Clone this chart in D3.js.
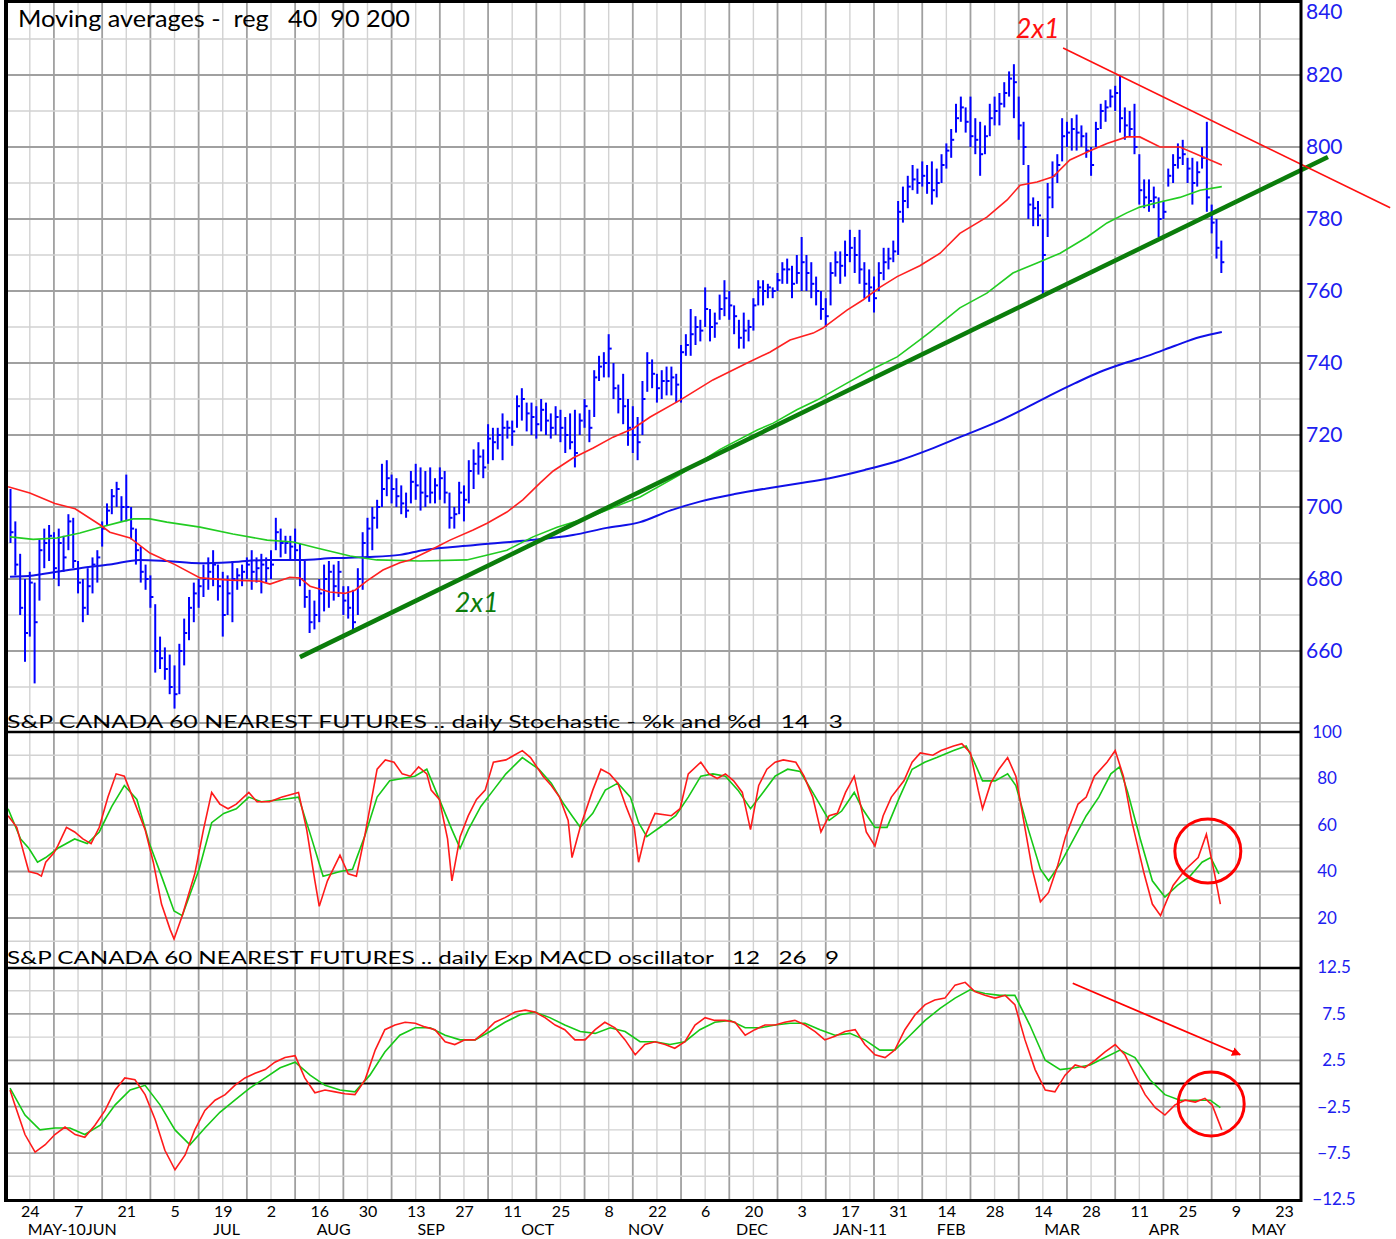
<!DOCTYPE html>
<html>
<head>
<meta charset="utf-8">
<script src="https://cdn.jsdelivr.net/npm/d3@7"></script>
<style>
  body { margin: 0; background: #fff; }
  svg { display: block; font-family: Lato, 'DejaVu Sans', sans-serif; }
  .pre { white-space: pre; }
</style>
</head>
<body>
<svg id="chart" width="1396" height="1239"></svg>
<script>
// trading-day index 0 = Mon 24 May 2010
const firstDay = -4;
const highs = [
    705, 696, 687, 680,
    682, 679, 691, 694, 695, 693, 694, 692, 698, 697,
    685, 680, 683, 686, 688, 696, 701, 705, 707, 703,
    709, 700, 694, 689, 684, 681, 673, 664, 661, 659,
    656, 662, 669, 675, 679, 680, 684, 686, 688, 684,
    682, 681, 685, 683, 684, 686, 688, 686, 687, 686,
    688, 697, 694, 692, 692, 694, 690, 685, 677, 674,
    680, 684, 685, 684, 685, 678, 678, 677, 683, 693,
    697, 700, 702, 712, 713, 709, 708, 706, 704, 710,
    712, 711, 710, 711, 708, 711, 710, 704, 700, 707,
    706, 713, 716, 718, 716, 723, 722, 722, 726, 724,
    724, 731, 733, 729, 729, 728, 730, 729, 726, 728,
    727, 725, 726, 727, 726, 730, 727, 738, 742, 743,
    748, 740, 734, 737, 730, 728, 725, 735, 743, 741,
    737, 738, 739, 739, 737, 745, 748, 755, 753, 752,
    761, 755, 754, 759, 763, 760, 756, 752, 754, 752,
    758, 763, 763, 762, 761, 765, 768, 769, 767, 770,
    775, 770, 768, 764, 760, 758, 768, 771, 771, 774,
    777, 775, 777, 768, 766, 764, 768, 772, 772, 774,
    785, 789, 792, 795, 794, 796, 795, 796, 794, 798,
    801, 805, 812, 814, 811, 814, 808, 807, 806, 812,
    814, 815, 818, 821, 823, 814, 807, 795, 786, 785,
    780, 790, 796, 798, 808, 807, 808, 809, 806, 804,
    800, 807, 812, 813, 816, 817, 820, 811, 810, 812,
    798, 791, 791, 789, 786, 785, 794, 798, 801, 802,
    797, 797, 796, 800, 807, 784, 780, 774
];
const lows = [
    690, 681, 670, 657,
    664, 651, 674, 683, 685, 680, 678, 682, 688, 683,
    676, 668, 670, 676, 679, 689, 695, 698, 700, 696,
    696, 691, 684, 679, 677, 672, 654, 655, 652, 648,
    644, 648, 656, 663, 668, 672, 675, 677, 678, 674,
    664, 670, 668, 677, 678, 680, 677, 679, 676, 679,
    680, 688, 686, 687, 685, 685, 678, 672, 665, 666,
    668, 671, 672, 674, 675, 670, 669, 665, 670, 677,
    686, 688, 694, 700, 703, 701, 700, 698, 697, 701,
    702, 699, 700, 701, 701, 702, 701, 694, 694, 698,
    696, 701, 705, 709, 708, 712, 713, 716, 713, 719,
    717, 722, 724, 721, 720, 719, 721, 720, 719, 720,
    718, 715, 716, 711, 720, 722, 718, 725, 735, 736,
    736, 730, 726, 723, 717, 715, 713, 720, 732, 733,
    729, 730, 731, 731, 729, 729, 742, 742, 745, 746,
    750, 746, 747, 752, 753, 752, 748, 744, 744, 746,
    749, 756, 756, 758, 758, 760, 762, 762, 758, 762,
    760, 760, 758, 756, 752, 750, 756, 764, 762, 764,
    768, 765, 762, 758, 757, 754, 760, 763, 766, 768,
    770, 779, 783, 788, 787, 789, 787, 784, 786, 790,
    794, 797, 804, 807, 804, 800, 798, 792, 798, 803,
    806, 806, 811, 814, 808, 802, 795, 780, 778, 778,
    759, 775, 783, 790, 796, 800, 799, 799, 800, 797,
    792, 800, 805, 807, 811, 810, 804, 802, 803, 798,
    784, 783, 782, 783, 775, 780, 789, 790, 794, 795,
    790, 784, 789, 794, 782, 776, 769, 765
];
const closes = [
    693, 684, 672, 665,
    679, 668, 688, 690, 692, 683, 690, 686, 696, 685,
    679, 672, 678, 684, 686, 694, 699, 703, 705, 700,
    700, 694, 688, 682, 680, 675, 660, 658, 655, 650,
    648, 660, 665, 672, 676, 678, 680, 682, 684, 678,
    670, 676, 680, 681, 682, 684, 682, 683, 684, 683,
    684, 693, 690, 690, 689, 688, 680, 675, 668, 670,
    676, 680, 682, 678, 682, 674, 672, 668, 680, 690,
    694, 697, 700, 705, 708, 705, 703, 701, 699, 707,
    706, 704, 703, 704, 706, 708, 704, 697, 698, 704,
    702, 710, 712, 714, 711, 719, 718, 720, 722, 722,
    721, 728, 730, 726, 725, 723, 727, 724, 722, 725,
    722, 720, 718, 715, 724, 728, 722, 736, 739, 740,
    744, 733, 730, 728, 722, 720, 718, 730, 740, 737,
    733, 735, 735, 736, 734, 743, 745, 748, 750, 749,
    755, 750, 751, 755, 758, 756, 753, 747, 749, 750,
    756, 761, 760, 761, 760, 763, 766, 766, 762, 765,
    768, 765, 762, 760, 755, 753, 765, 768, 767, 770,
    772, 770, 766, 762, 761, 758, 765, 768, 769, 771,
    782, 785, 789, 791, 790, 792, 790, 788, 790, 795,
    799, 802, 808, 811, 807, 803, 802, 798, 803, 808,
    810, 812, 815, 819, 818, 806, 800, 784, 783, 781,
    770, 786, 792, 795, 803, 804, 805, 804, 803, 799,
    795, 805, 810, 811, 814, 815, 808, 806, 805, 800,
    788, 786, 785, 786, 780, 782, 792, 795, 797, 798,
    794, 790, 793, 797, 786, 779, 772, 768
];

// moving averages as [day, value]
const ma40 = [[-4.5,705.6],[0,703.9],[5.2,701],[9.4,699.5],[14.6,695],[16.6,693],[20.8,691.4],[24.9,687.2],[30.1,684],[35.3,680.3],[41.5,679.7],[47.7,679.4],[49.8,678.6],[53.9,680.5],[56,680.3],[58.1,678],[62.2,676.4],[65.3,676],[67.4,676.9],[69.9,679.5],[73.2,682.5],[76.7,684.5],[78.8,685.3],[83,688],[87.1,690.8],[91.9,693.6],[94.8,695.5],[98.9,698.6],[102.2,702],[105.8,706.7],[108.5,710],[112.6,713.6],[116.8,716.4],[120.9,719.4],[125.1,721.8],[128.6,725],[134.8,729.7],[141.6,735.3],[148.7,740],[153.4,743],[157.6,746.4],[162.4,748.3],[164.4,749.7],[169.4,754.7],[172.7,757.5],[176.2,761],[179.8,764],[184.5,767],[188.7,770.5],[192.8,776],[198.4,780.5],[202.6,785.3],[205.3,789.4],[208.8,790.3],[212.1,791.7],[215.6,796.4],[219.2,798.6],[223.3,801],[227.4,802.8],[230.1,802.8],[234.3,800],[238.4,800],[243.2,797.2],[247.1,795]];
const ma90 = [[-4.1,691.7],[0.7,691],[5.6,691.4],[10.4,692.8],[14.6,694.4],[18.7,695.8],[21.4,696.7],[24.9,696.7],[28.4,695.8],[35.3,694.4],[42.1,692.5],[49.2,690.8],[54.6,690.3],[59.5,688.6],[66.4,686.4],[71.9,685.3],[80.9,685],[90.6,685.3],[98.9,688],[104.3,691.7],[109.3,694.4],[116.1,697.2],[123,701],[126.5,702.8],[134.8,709],[143.1,716],[150.8,721.4],[154.1,723.3],[159,727],[163.2,729.7],[169.4,734.4],[174.2,738],[179.8,741.7],[184.5,746.4],[186.6,748.6],[192.8,755.3],[198.4,759.4],[203.8,765],[208.8,767.8],[213.6,770.5],[219.2,775],[223.3,778.9],[227.4,781.7],[230.1,783.3],[234.3,784.7],[238.4,786],[242.6,788],[247.1,789]];
const ma200 = [[-4.1,680.6],[0.7,681],[5.6,682],[10.4,683],[16.6,684],[22.8,685.3],[28.4,685],[35.3,684.4],[42.1,684.7],[49.2,685.3],[56,685.3],[62.9,685.8],[69.9,686.1],[76.7,686.7],[81.5,688],[91.9,689.4],[102.2,690.6],[112.6,692.2],[119.6,694.2],[126.5,695.8],[132.7,699],[138.9,701.5],[146.1,703.6],[153.4,705.3],[159.6,706.6],[165.8,708],[173.1,710.3],[180.4,713],[186.6,716],[192.8,719.4],[201.1,724],[206.3,727.4],[211.5,731],[216.7,734.4],[221.8,737.5],[227,740],[232.2,742.2],[237.4,744.8],[242.6,747.2],[247.1,748.6]];

const stochK = [[-4.5,64],[-2.7,59],[-1,46],[-0.2,40],[1.6,39],[2.4,38],[3.3,44],[5,48],[5.8,51],[7.6,59],[9.3,57],[11,54],[12.7,52],[14.4,59],[16.2,72],[17.9,82],[19.6,81],[21.3,72],[23.9,58],[25.6,44],[27.3,26],[29.1,15],[29.9,11],[31.6,21],[34.2,39],[36,58],[37.7,74],[39.4,69],[41.1,67],[42.8,69],[45.4,74],[47.1,70],[49.7,70],[52.3,72],[55.7,74],[57.4,58],[59.1,36],[60,25],[61.7,36],[64.3,47],[66,39],[67.7,38],[69.4,55],[72,84],[73.7,88],[75.5,87],[77.2,82],[78.9,81],[80.6,85],[82.3,82],[83.2,75],[84.9,71],[86.6,54],[87.5,36],[89.2,55],[90.9,64],[92.6,71],[94.4,75],[96.1,87],[98.7,88],[100.4,90],[102.1,92],[103.8,89],[106.4,81],[108.1,77],[109.8,72],[111.6,62],[112.4,46],[114.1,59],[116.7,75],[118.4,84],[120.2,82],[121.9,78],[123.6,68],[125.3,59],[126.2,44],[127.5,55],[129.6,65],[133,64],[134.8,67],[136.5,82],[139.1,87],[140.8,82],[142.5,80],[144.2,82],[145.9,79],[147.7,74],[149.4,58],[151.1,77],[152.8,84],[154.5,87],[156.2,88],[158.8,87],[160.5,81],[162.3,72],[164,57],[165.7,64],[167.4,65],[169.1,74],[170.9,81],[172.6,65],[173.4,57],[175.2,51],[176.9,64],[178.6,72],[181.2,79],[182.9,87],[184.6,91],[187.2,90],[188.9,92],[191.5,94],[193.2,95],[195,91],[196.6,75],[197.5,67],[199.2,78],[200.9,84],[202.7,89],[204.4,81],[206.1,61],[207.8,41],[209.5,27],[211.2,31],[213,42],[214.7,55],[217.3,69],[219,72],[220.7,81],[223.3,87],[225,92],[226.7,81],[228.4,62],[231,39],[232.7,26],[234.4,21],[237,34],[239.6,41],[242.2,46],[243.9,56],[245.6,39],[246.8,26]];
const stochD = [[-4.5,67],[-1.9,54],[-0.2,50],[1.6,44],[3.3,46],[5.8,50],[9.3,54],[11.9,52],[14.4,57],[17,68],[19.6,77],[22.2,71],[24.8,52],[27.3,38],[29.9,23],[31.6,21],[35.1,41],[37.7,61],[40.2,65],[42.8,67],[45.4,72],[48,70],[52.3,71],[55.7,72],[58.3,55],[60.8,38],[64.3,40],[66.9,41],[69.4,55],[72,72],[74.6,79],[77.2,80],[79.8,81],[82.3,84],[84.9,71],[87.5,58],[89.2,50],[90.9,58],[93.5,68],[96.1,75],[98.7,82],[102.1,89],[105.5,84],[108.1,78],[110.7,69],[112.4,64],[114.1,59],[116.7,65],[119.3,75],[121.9,78],[124.5,72],[126.2,61],[127.9,55],[131.3,60],[133.9,64],[136.5,72],[139.1,81],[141.6,82],[144.2,81],[146.8,75],[149.4,67],[152,74],[154.5,81],[157.1,84],[159.7,83],[162.3,74],[164,68],[165.7,62],[168.3,66],[170.9,74],[172.6,67],[175.2,59],[177.7,59],[180.3,72],[182.9,84],[185.5,87],[188,89],[191.5,92],[194.1,94],[195.8,87],[197.5,79],[200.1,79],[202.7,82],[204.4,77],[207,58],[209.5,41],[211.2,36],[213.8,44],[216.4,54],[219,64],[221.6,72],[224.1,82],[225.9,85],[227.6,74],[230.2,54],[232.7,36],[235.3,29],[237.9,34],[240.5,38],[243,44],[244.8,46],[246.5,39]];

const macdLine = [[-4.1,-0.7],[-3.1,-2.3],[-1,-5.5],[1.1,-7.4],[3.2,-6.6],[5.2,-5.5],[7.3,-4.7],[9.4,-5.5],[11.4,-5.8],[13.5,-4.5],[15.6,-2.9],[17.7,-0.7],[19.7,0.6],[21.8,0.4],[23.9,-1.2],[26,-3.9],[28,-7.2],[30.1,-9.3],[32.2,-7.7],[34.2,-5],[36.3,-2.9],[38.4,-1.8],[40.5,-1.2],[42.5,-0.2],[44.6,0.6],[46.7,1.1],[48.8,1.5],[50.8,2.3],[52.9,2.8],[55,3],[57,0.6],[59.1,-1],[61.2,-0.7],[63.3,-0.9],[65.3,-1.1],[67.4,-1.2],[69.5,0.4],[71.6,3.6],[73.6,5.8],[75.7,6.3],[77.8,6.6],[79.9,6.5],[81.9,6.1],[84,5.8],[86.1,4.5],[88.1,4.2],[90.2,4.7],[92.3,4.7],[94.4,5.6],[96.4,6.6],[98.5,7.1],[100.6,7.7],[102.7,7.9],[104.7,7.7],[106.8,7.1],[108.9,6.3],[110.9,5.8],[113,4.7],[115.1,4.7],[117.2,5.8],[119.2,6.6],[121.3,6],[123.4,4.7],[125.5,3.1],[127.5,4.2],[129.6,4.5],[131.7,4.2],[133.7,3.8],[135.8,4.5],[137.9,6.3],[140,7.1],[142,6.8],[144.1,6.8],[146.2,6.6],[148.3,5.2],[150.3,5.8],[152.4,6.3],[154.5,6.3],[156.5,6.6],[158.6,6.8],[160.7,6.3],[162.8,5.6],[164.8,4.7],[166.9,5.1],[169,5.6],[171.1,5.8],[173.1,4.2],[175.2,3.1],[177.3,2.8],[179.3,3.6],[181.4,5.8],[183.5,7.4],[185.6,8.5],[187.6,9],[189.7,9.2],[191.8,10.6],[193.9,10.9],[195.9,9.9],[198,9.5],[200.1,9.2],[202.2,9.5],[204.2,8.5],[206.3,4.7],[208.4,1.5],[210.5,-0.7],[212.5,-0.9],[214.6,0.9],[216.7,2],[218.7,1.7],[220.8,2.5],[222.9,3.4],[225,4.2],[227,3.1],[229.1,0.9],[231.2,-1.2],[233.3,-2.6],[235.3,-3.4],[237.4,-2.3],[239.5,-1.8],[241.6,-2],[243.6,-1.6],[245.1,-2.3],[247.1,-5]];
const macdSignal = [[-4.1,-0.5],[-1,-3.4],[2.1,-5],[5.2,-4.8],[8.3,-4.8],[11.4,-5.5],[14.6,-4.5],[17.7,-2.3],[20.8,-0.7],[23.9,-0.2],[27,-2.3],[30.1,-5],[33.2,-6.6],[36.3,-4.8],[39.4,-3.1],[42.5,-1.8],[45.6,-0.5],[48.8,0.6],[51.9,1.7],[55,2.3],[58.1,0.9],[61.2,-0.2],[64.3,-0.7],[67.4,-0.9],[70.5,0.9],[73.6,3.4],[76.7,5.2],[79.9,6],[83,6],[86.1,5.2],[89.2,4.7],[92.3,4.7],[95.4,5.6],[98.5,6.6],[101.6,7.4],[104.7,7.7],[107.8,7.1],[110.9,6.3],[114.1,5.6],[117.2,5.4],[120.3,6],[123.4,5.6],[126.5,4.5],[129.6,4.5],[132.7,4.2],[135.8,4.5],[138.9,5.8],[142,6.6],[145.1,6.8],[148.3,6],[151.4,6],[154.5,6.3],[157.6,6.5],[160.7,6.5],[163.8,5.8],[166.9,5.2],[170,5.4],[173.1,4.7],[176.2,3.6],[179.3,3.6],[182.5,5.2],[185.6,6.8],[188.7,8.1],[191.8,9.2],[194.9,10.1],[198,9.7],[201.1,9.5],[204.2,9.5],[207.3,6.3],[210.5,2.5],[213.6,1.5],[216.7,1.7],[219.8,2],[222.9,2.8],[226,3.6],[229.1,2.8],[232.2,0.4],[235.3,-1.2],[238.4,-1.8],[241.6,-1.8],[244.7,-1.8],[246.8,-2.6]];

// annotations (day, value)
const greenTrend = [[56.0, 658.3], [269.1, 797.2]];
const redTrend = [[214.2, 827.5], [282, 783.1]];
const macdArrow = [[216.2, 10.8], [250.9, 3.1]];
const stochCircle = [244.2, 48.8];
const macdCircle = [244.9, -2.2];
const greenNote = [88.1, 670.8];
const redNote = [204.4, 830.3];

const dayTickLabels = ['24','7','21','5','19','2','16','30','13','27','11','25','8','22','6','20','3','17','31','14','28','14','28','11','25','9','23'];
const monthLabels = ['MAY-10JUN','JUL','AUG','SEP','OCT','NOV','DEC','JAN-11','FEB','MAR','APR','MAY'];
const monthDays = [8.8, 40.8, 63, 83.2, 105.3, 127.7, 149.7, 172.1, 191, 214, 235.1, 256.8];
const priceTicks = [660, 680, 700, 720, 740, 760, 780, 800, 820, 840];
const stochTicks = [20, 40, 60, 80, 100];
const macdTicks = [-12.5, -7.5, -2.5, 2.5, 7.5, 12.5];

const LEFT = 7, RIGHT = 1301;
const BLUE_TEXT = '#2020f0';

const svg = d3.select('#chart');

const x = d3.scaleLinear().domain([0, 250]).range([29.8, 29.8 + 250 * 4.824]);
const yPrice = d3.scaleLinear().domain([637.5, 840]).range([732, 3]);
const yStoch = d3.scaleLinear().domain([0, 100]).range([964.5, 732]);
const yMacd = d3.scaleLinear().domain([-12.5, 12.5]).range([1199.5, 967.5]);

// grid
const grid = svg.append('g');
d3.range(-5, 260, 5).forEach(d => {
    const px = x(d);
    if (px <= LEFT + 1 || px >= RIGHT - 1) return;
    const dark = (d / 5) % 2 !== 0;
    grid.append('line')
        .attr('x1', px).attr('x2', px)
        .attr('y1', 0).attr('y2', 1200)
        .attr('stroke', dark ? '#a0a0a0' : '#d2d2d2')
        .attr('stroke-width', dark ? 1.8 : 1.4);
});

function hGrid(scale, values, isDark) {
    values.forEach(v => {
        grid.append('line')
            .attr('x1', LEFT).attr('x2', RIGHT)
            .attr('y1', scale(v)).attr('y2', scale(v))
            .attr('stroke', isDark(v) ? '#a0a0a0' : '#d2d2d2')
            .attr('stroke-width', isDark(v) ? 1.8 : 1.4);
    });
}
hGrid(yPrice, d3.range(640, 840, 10), v => v % 20 === 0);
hGrid(yStoch, d3.range(10, 100, 10), v => v % 20 === 0);
hGrid(yMacd, [-10, -7.5, -5, -2.5, 2.5, 5, 7.5, 10], v => Math.abs(v) % 5 !== 0);

// price bars
const bars = svg.append('g')
    .attr('stroke', '#0000ff')
    .attr('stroke-width', 2);

highs.forEach((h, i) => {
    const day = firstDay + i;
    bars.append('line')
        .attr('x1', x(day)).attr('x2', x(day))
        .attr('y1', yPrice(h)).attr('y2', yPrice(lows[i]));
    bars.append('line')
        .attr('x1', x(day)).attr('x2', x(day) + 3)
        .attr('y1', yPrice(closes[i])).attr('y2', yPrice(closes[i]));
});

const priceLine = d3.line().x(d => x(d[0])).y(d => yPrice(d[1]));
const stochLine = d3.line().x(d => x(d[0])).y(d => yStoch(d[1]));
const macdPath = d3.line().x(d => x(d[0])).y(d => yMacd(d[1]));

svg.append('path').attr('d', priceLine.curve(d3.curveMonotoneX)(ma200)).attr('fill', 'none').attr('stroke', '#1010e8').attr('stroke-width', 2);
priceLine.curve(d3.curveLinear);
svg.append('path').attr('d', priceLine(ma90)).attr('fill', 'none').attr('stroke', '#22cc22').attr('stroke-width', 1.6);
svg.append('path').attr('d', priceLine(ma40)).attr('fill', 'none').attr('stroke', '#ff2020').attr('stroke-width', 1.6);

svg.append('path').attr('d', priceLine(greenTrend)).attr('stroke', '#0b7d0b').attr('stroke-width', 4.5);
svg.append('path').attr('d', priceLine(redTrend)).attr('stroke', '#ff1010').attr('stroke-width', 1.6);

svg.append('text')
    .attr('x', x(redNote[0])).attr('y', yPrice(redNote[1]))
    .attr('fill', '#ff1010').attr('font-style', 'italic')
    .attr('font-size', 27).text('2x1');
svg.append('text')
    .attr('x', x(greenNote[0])).attr('y', yPrice(greenNote[1]))
    .attr('fill', '#0b7d0b').attr('font-style', 'italic')
    .attr('font-size', 27).text('2x1');

// stochastic
svg.append('path').attr('d', stochLine(stochD)).attr('fill', 'none').attr('stroke', '#16c816').attr('stroke-width', 1.6);
svg.append('path').attr('d', stochLine(stochK)).attr('fill', 'none').attr('stroke', '#ff1a1a').attr('stroke-width', 1.6);
svg.append('ellipse')
    .attr('cx', x(stochCircle[0])).attr('cy', yStoch(stochCircle[1]))
    .attr('rx', 33).attr('ry', 32)
    .attr('fill', 'none').attr('stroke', '#ff0000').attr('stroke-width', 3);

// macd
svg.append('line')
    .attr('x1', LEFT).attr('x2', RIGHT)
    .attr('y1', yMacd(0)).attr('y2', yMacd(0))
    .attr('stroke', '#000').attr('stroke-width', 2);
svg.append('path').attr('d', macdPath(macdSignal)).attr('fill', 'none').attr('stroke', '#16c816').attr('stroke-width', 1.6);
svg.append('path').attr('d', macdPath(macdLine)).attr('fill', 'none').attr('stroke', '#ff1a1a').attr('stroke-width', 1.6);
svg.append('ellipse')
    .attr('cx', x(macdCircle[0])).attr('cy', yMacd(macdCircle[1]))
    .attr('rx', 33).attr('ry', 32)
    .attr('fill', 'none').attr('stroke', '#ff0000').attr('stroke-width', 3);

svg.append('defs').append('marker')
    .attr('id', 'arrow')
    .attr('viewBox', '0 0 10 10')
    .attr('refX', 9).attr('refY', 5)
    .attr('markerWidth', 9).attr('markerHeight', 9)
    .attr('markerUnits', 'userSpaceOnUse')
    .attr('orient', 'auto')
    .append('path').attr('d', 'M0,0L10,5L0,10Z').attr('fill', '#ff0000');
svg.append('path')
    .attr('d', macdPath(macdArrow))
    .attr('stroke', '#ff0000').attr('stroke-width', 1.8)
    .attr('marker-end', 'url(#arrow)');

// frame
const frame = svg.append('g').attr('stroke', '#000');
frame.append('line').attr('x1', 6).attr('x2', 6).attr('y1', 0).attr('y2', 1202).attr('stroke-width', 4);
frame.append('line').attr('x1', RIGHT).attr('x2', RIGHT).attr('y1', 0).attr('y2', 1202).attr('stroke-width', 3);
frame.append('line').attr('x1', 4).attr('x2', RIGHT + 1).attr('y1', 1.5).attr('y2', 1.5).attr('stroke-width', 3);
frame.append('line').attr('x1', 4).attr('x2', RIGHT + 1).attr('y1', 1200.5).attr('y2', 1200.5).attr('stroke-width', 3);
frame.append('line').attr('x1', 4).attr('x2', RIGHT + 1).attr('y1', 732).attr('y2', 732).attr('stroke-width', 2.5);
frame.append('line').attr('x1', 4).attr('x2', RIGHT + 1).attr('y1', 968).attr('y2', 968).attr('stroke-width', 2.5);

// panel captions
svg.append('text').attr('class', 'pre').attr('x', 18).attr('y', 27)
    .attr('font-size', 23).attr('textLength', 392).attr('lengthAdjust', 'spacingAndGlyphs')
    .text('Moving averages -  reg   40  90 200');
svg.append('text').attr('class', 'pre').attr('x', 7).attr('y', 728)
    .attr('font-size', 18).attr('textLength', 836).attr('lengthAdjust', 'spacingAndGlyphs')
    .text('S&P CANADA 60 NEAREST FUTURES .. daily Stochastic - %k and %d   14   3');
svg.append('text').attr('class', 'pre').attr('x', 7).attr('y', 964)
    .attr('font-size', 18).attr('textLength', 832).attr('lengthAdjust', 'spacingAndGlyphs')
    .text('S&P CANADA 60 NEAREST FUTURES .. daily Exp MACD oscillator   12   26   9');

// right axes
function rightAxis(scale, ticks, fmt, size, anchor, dx) {
    const g = svg.append('g')
        .attr('transform', `translate(${RIGHT},0)`)
        .call(d3.axisRight(scale).tickValues(ticks).tickSize(0).tickFormat(fmt));
    g.select('.domain').remove();
    g.selectAll('text')
        .attr('fill', BLUE_TEXT)
        .attr('font-size', size)
        .attr('font-family', 'Lato, sans-serif')
        .attr('text-anchor', anchor)
        .attr('x', dx);
    return g;
}
rightAxis(yPrice, priceTicks, d3.format('d'), 21, 'start', 5)
    .selectAll('text')
    .filter(d => d === 840)
    .attr('dy', '0.72em');
rightAxis(yStoch, stochTicks, d3.format('d'), 17, 'middle', 26);
rightAxis(yMacd, macdTicks, d => d3.format('.1f')(d), 17, 'middle', 33);

// bottom axis
const xAxis = svg.append('g')
    .attr('transform', 'translate(0,1201)')
    .call(d3.axisBottom(x)
        .tickValues(d3.range(0, 261, 10))
        .tickSize(0)
        .tickFormat((d, i) => dayTickLabels[i]));
xAxis.select('.domain').remove();
xAxis.selectAll('text')
    .attr('fill', '#000')
    .attr('font-size', 16)
    .attr('font-family', 'Lato, sans-serif')
    .attr('y', 16)
    .attr('dy', null);

svg.append('g')
    .selectAll('text')
    .data(monthLabels)
    .enter()
    .append('text')
    .attr('x', (d, i) => x(monthDays[i]))
    .attr('y', 1235)
    .attr('text-anchor', 'middle')
    .attr('font-size', 16)
    .text(d => d);
</script>
</body>
</html>
